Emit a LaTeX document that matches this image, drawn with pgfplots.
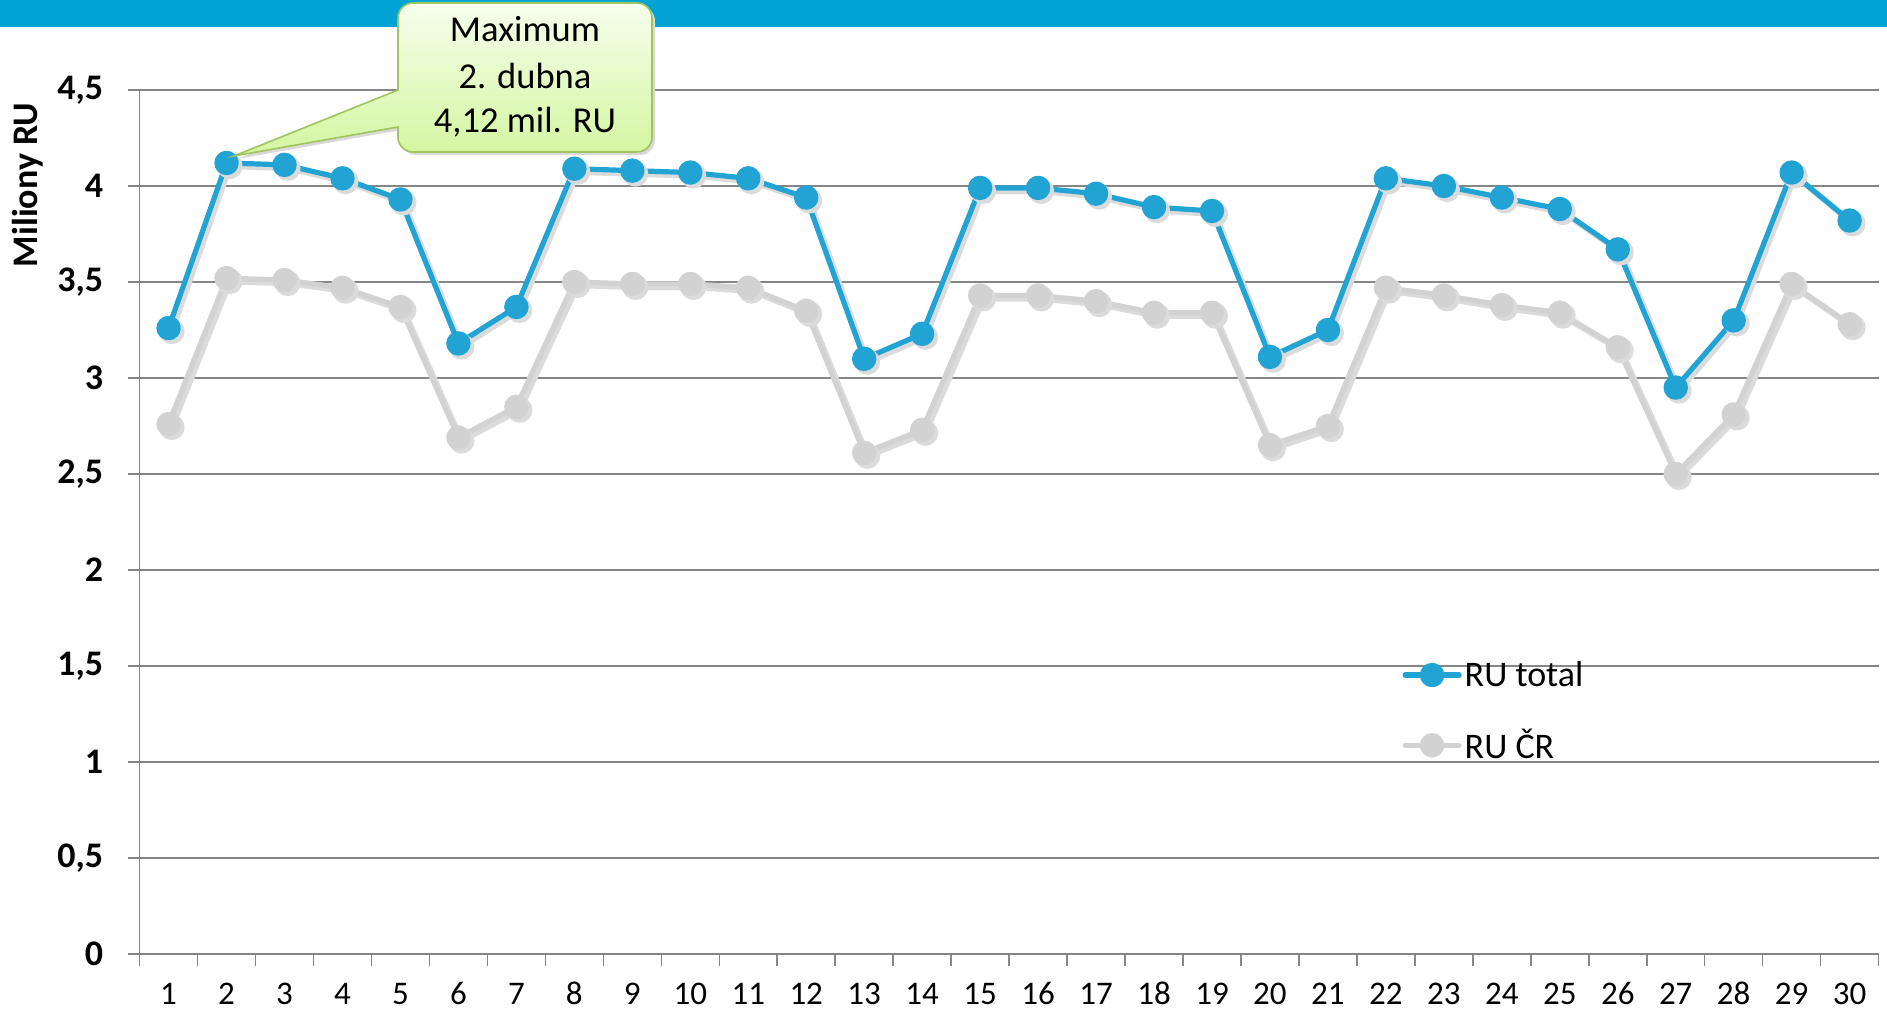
\documentclass[border=0pt]{standalone}
\usepackage{pgfplots}
\pgfplotsset{compat=1.18}
\usepackage{pgfplotstable}
\usepackage{fontspec}
\setmainfont{Carlito}
\definecolor{band}{RGB}{0,163,212}
\definecolor{rublue}{RGB}{33,164,212}
\definecolor{rugray}{RGB}{210,210,210}
\definecolor{gridc}{RGB}{134,134,134}
\definecolor{cborder}{RGB}{160,196,95}
\definecolor{ctop}{RGB}{246,255,236}
\definecolor{cbot}{RGB}{212,245,160}
\pgfplotstableread{
x tot cr
1 3.26 2.76
2 4.12 3.52
3 4.11 3.51
4 4.04 3.47
5 3.93 3.37
6 3.18 2.69
7 3.37 2.85
8 4.09 3.50
9 4.08 3.49
10 4.07 3.49
11 4.04 3.47
12 3.94 3.35
13 3.10 2.61
14 3.23 2.73
15 3.99 3.43
16 3.99 3.43
17 3.96 3.40
18 3.89 3.34
19 3.87 3.34
20 3.11 2.65
21 3.25 2.75
22 4.04 3.47
23 4.00 3.43
24 3.94 3.38
25 3.88 3.34
26 3.67 3.16
27 2.95 2.50
28 3.30 2.81
29 4.07 3.49
30 3.82 3.28
}\data
\begin{document}
\begin{tikzpicture}
\useasboundingbox (0bp,0bp) rectangle (943.5bp,504.5bp);
\fill[band] (0bp,491bp) rectangle (943.5bp,504.5bp);
\begin{axis}[
  at={(69.8bp,27.5bp)}, anchor=south west,
  scale only axis, width=869.5bp, height=432bp,
  xmin=0.5, xmax=30.5, ymin=0, ymax=4.5,
  xtick={0.5,1.5,...,30.5},
  x tick label as interval,
  xticklabels={1,2,3,4,5,6,7,8,9,10,11,12,13,14,15,16,17,18,19,20,21,22,23,24,25,26,27,28,29,30},
  ytick={0,0.5,1,1.5,2,2.5,3,3.5,4,4.5},
  /pgf/number format/use comma,
  /pgf/number format/assume math mode=true,
  axis lines*=left,
  axis line style={draw=gridc, line width=0.75bp},
  tick align=outside,
  major tick length=6bp,
  tick style={draw=gridc, line width=0.75bp},
  ymajorgrids, grid style={draw=gridc, line width=0.75bp},
  yticklabel style={font=\bfseries\fontsize{18bp}{20bp}\selectfont, anchor=east, inner sep=0pt, xshift=-12bp},
  xticklabel style={font=\fontsize{16.5bp}{18bp}\selectfont, anchor=north, inner sep=0pt, yshift=-7.5bp,
    text height=11.5bp, text depth=0pt},
  legend style={at={(rel axis cs:0.726,0.343)}, anchor=north west, draw=none, fill=none,
    font=\fontsize{18bp}{20bp}\selectfont, row sep=17bp, inner sep=0pt, nodes={inner sep=1.5bp}},
  legend cell align=left,
  legend image code/.code={\draw[mark repeat=2,mark phase=2,#1] plot coordinates {(0bp,0bp) (13.5bp,0bp) (27bp,0bp)};},
  clip=false,
]
\addplot[forget plot, draw=black!14, line width=3bp, line join=round, mark=*, mark size=4.9bp,
  mark options={fill=black!14, draw=none}, xshift=1.6bp, yshift=-1.6bp] table[x=x,y=cr]{\data};
\addplot[forget plot, draw=black!14, line width=3bp, line join=round, mark=*, mark size=4.9bp,
  mark options={fill=black!14, draw=none}, xshift=1.6bp, yshift=-1.6bp] table[x=x,y=tot]{\data};
\addplot[rublue, line width=2.6bp, line join=round, line cap=round, mark=*, mark size=4.8bp,
  mark options={fill=rublue, draw=none}] table[x=x,y=tot]{\data};
\addlegendentry{RU total}
\addplot[rugray, line width=2.6bp, line join=round, line cap=round, mark=*, mark size=4.8bp,
  mark options={fill=rugray, draw=none}] table[x=x,y=cr]{\data};
\addlegendentry{RU ČR}
\end{axis}
\node[rotate=90, font=\bfseries\fontsize{18bp}{20bp}\selectfont] at (13.8bp,412bp) {Miliony RU};
\fill[black!15]
  (200.5bp,458bp) [rounded corners=7.5bp] -- (200.5bp,501.5bp) -- (327.5bp,501.5bp) -- (327.5bp,427bp) -- (200.5bp,427bp)
  [sharp corners] -- (200.5bp,439.5bp) -- (118.5bp,425bp) -- cycle;
\path[draw=cborder, line width=0.8bp, top color=ctop, bottom color=cbot]
  (199bp,459.5bp) [rounded corners=7.5bp] -- (199bp,503bp) -- (326bp,503bp) -- (326bp,428.5bp) -- (199bp,428.5bp)
  [sharp corners] -- (199bp,441bp) -- (117bp,426.5bp) -- cycle;
\begin{scope}[every node/.style={font=\fontsize{18.25bp}{20bp}\selectfont, inner sep=0pt, anchor=base}]
\node at (262.5bp,483.5bp) {Maximum};
\node at (262.5bp,460.25bp) {2. dubna};
\node at (262.5bp,438bp) {4,12 mil. RU};
\end{scope}
\end{tikzpicture}
\end{document}
